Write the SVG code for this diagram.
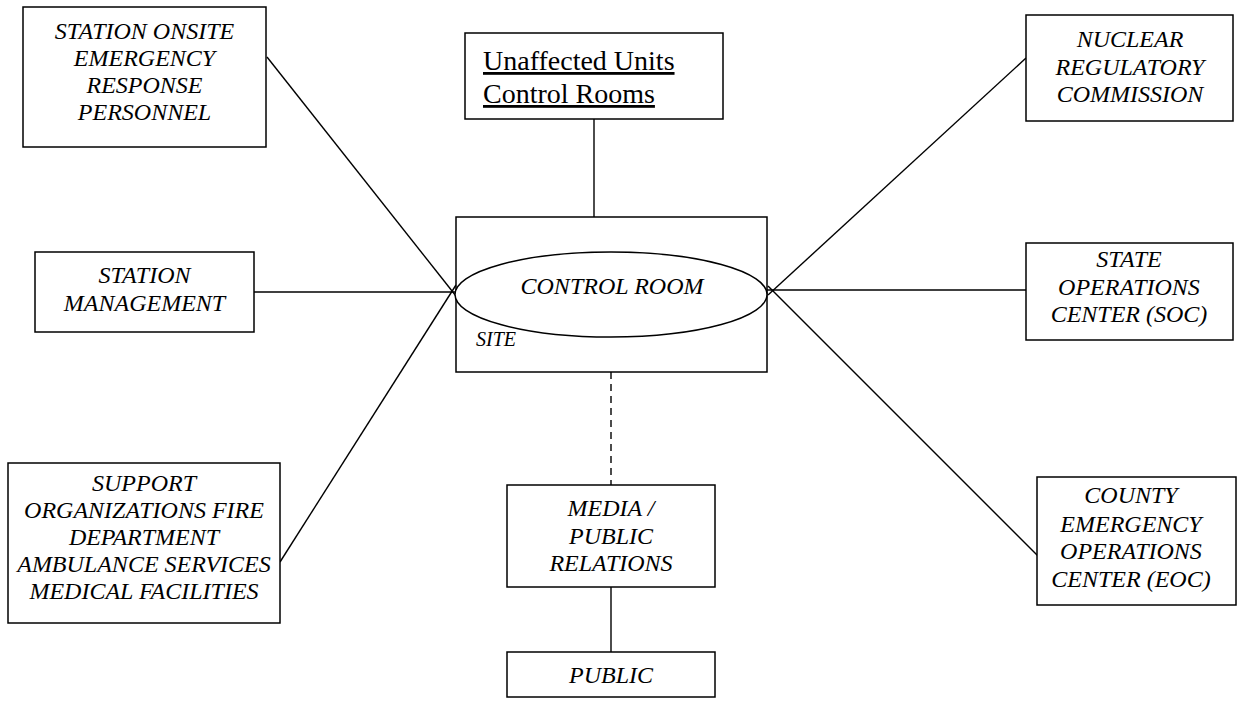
<svg xmlns="http://www.w3.org/2000/svg" width="1239" height="709" viewBox="0 0 1239 709">
<style>
.box{fill:#fff;stroke:#000;stroke-width:1.5}
.ln{stroke:#000;stroke-width:1.4;fill:none}
.t{font-family:"Liberation Serif","Times New Roman",serif;font-style:italic;font-size:24px;fill:#000;text-anchor:middle}
.u{font-family:"Liberation Serif","Times New Roman",serif;font-size:28px;fill:#000;text-decoration:underline}
</style>
<rect width="1239" height="709" fill="#fff"/>
<g id="connectors">
<line class="ln" x1="267" y1="57" x2="456" y2="296"/>
<line class="ln" x1="254" y1="292" x2="455" y2="292"/>
<line class="ln" x1="280" y1="562" x2="456" y2="285"/>
<line class="ln" x1="594" y1="119" x2="594" y2="217"/>
<line class="ln" x1="1026" y1="58" x2="768" y2="295"/>
<line class="ln" x1="767" y1="290" x2="1026" y2="290"/>
<line class="ln" x1="1038" y1="556" x2="768" y2="286"/>
<line class="ln" x1="611" y1="372" x2="611" y2="485" stroke-dasharray="7,5"/>
<line class="ln" x1="611" y1="587" x2="611" y2="652"/>
</g>
<g id="site">
<rect class="box" x="456" y="217" width="311" height="155"/>
<text class="t" x="496" y="346" style="font-size:20px">SITE</text>
</g>
<g id="control-room">
<ellipse class="box" cx="611" cy="294.5" rx="156" ry="42.5"/>
<text class="t" x="612" y="294">CONTROL ROOM</text>
</g>
<g id="onsite">
<rect class="box" x="23" y="7" width="243" height="140"/>
<text class="t" x="144.5" y="39">STATION ONSITE</text>
<text class="t" x="144.5" y="66">EMERGENCY</text>
<text class="t" x="144.5" y="93">RESPONSE</text>
<text class="t" x="144.5" y="120">PERSONNEL</text>
</g>
<g id="unaffected">
<rect class="box" x="465" y="33" width="258" height="86"/>
<text class="u" x="483" y="70">Unaffected Units</text>
<text class="u" x="483" y="103">Control Rooms</text>
</g>
<g id="nrc">
<rect class="box" x="1026" y="15" width="207" height="106"/>
<text class="t" x="1130" y="47">NUCLEAR</text>
<text class="t" x="1130" y="75">REGULATORY</text>
<text class="t" x="1130" y="102">COMMISSION</text>
</g>
<g id="management">
<rect class="box" x="35" y="252" width="219" height="80"/>
<text class="t" x="144.5" y="283">STATION</text>
<text class="t" x="144.5" y="311">MANAGEMENT</text>
</g>
<g id="soc">
<rect class="box" x="1026" y="243" width="207" height="97"/>
<text class="t" x="1129" y="267">STATE</text>
<text class="t" x="1129" y="295">OPERATIONS</text>
<text class="t" x="1129" y="322">CENTER (SOC)</text>
</g>
<g id="support">
<rect class="box" x="8" y="463" width="272" height="160"/>
<text class="t" x="144" y="491">SUPPORT</text>
<text class="t" x="144" y="518">ORGANIZATIONS FIRE</text>
<text class="t" x="144" y="545">DEPARTMENT</text>
<text class="t" x="144" y="572">AMBULANCE SERVICES</text>
<text class="t" x="144" y="599">MEDICAL FACILITIES</text>
</g>
<g id="media">
<rect class="box" x="507" y="485" width="208" height="102"/>
<text class="t" x="611" y="516">MEDIA /</text>
<text class="t" x="611" y="544">PUBLIC</text>
<text class="t" x="611" y="571">RELATIONS</text>
</g>
<g id="public">
<rect class="box" x="507" y="652" width="208" height="45"/>
<text class="t" x="611" y="683">PUBLIC</text>
</g>
<g id="eoc">
<rect class="box" x="1037" y="477" width="199" height="128"/>
<text class="t" x="1131" y="503">COUNTY</text>
<text class="t" x="1131" y="532">EMERGENCY</text>
<text class="t" x="1131" y="559">OPERATIONS</text>
<text class="t" x="1131" y="587">CENTER (EOC)</text>
</g>
</svg>
